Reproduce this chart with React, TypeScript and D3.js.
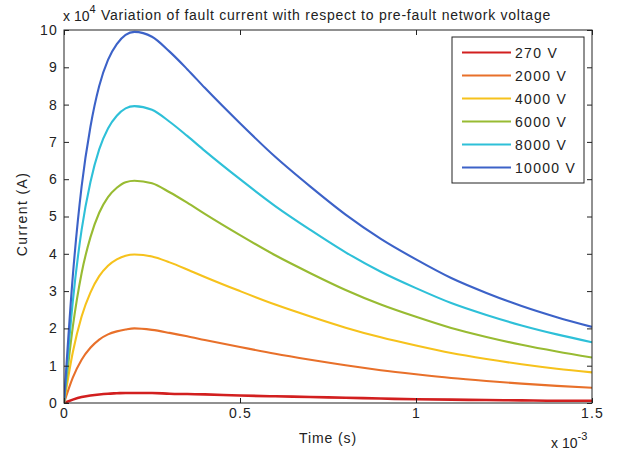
import React, { useRef, useEffect } from 'react';
import * as d3 from 'd3';

// time in ms (axis label carries the x 10^-3)
const timeMs = [0, 0.025, 0.05, 0.075, 0.1, 0.125, 0.15, 0.175, 0.2, 0.25, 0.3, 0.35, 0.4, 0.5, 0.6, 0.7, 0.8, 0.9, 1.0, 1.1, 1.2, 1.3, 1.4, 1.5];

// fault current in units of 10^4 A
const i270 = [0, 0.09, 0.16, 0.2, 0.23, 0.25, 0.26, 0.27, 0.27, 0.27, 0.25, 0.24, 0.23, 0.2, 0.18, 0.16, 0.14, 0.12, 0.1, 0.09, 0.08, 0.07, 0.06, 0.06];
const i2000 = [0, 0.68, 1.16, 1.48, 1.7, 1.84, 1.92, 1.97, 2.0, 1.96, 1.88, 1.79, 1.69, 1.5, 1.32, 1.16, 1.01, 0.88, 0.77, 0.67, 0.59, 0.52, 0.46, 0.41];
const i4000 = [0, 1.36, 2.32, 2.96, 3.4, 3.68, 3.85, 3.95, 3.98, 3.93, 3.77, 3.58, 3.38, 3.0, 2.64, 2.32, 2.02, 1.76, 1.54, 1.34, 1.18, 1.04, 0.92, 0.82];
const i6000 = [0, 2.04, 3.48, 4.44, 5.1, 5.52, 5.77, 5.92, 5.96, 5.89, 5.65, 5.37, 5.07, 4.5, 3.96, 3.48, 3.03, 2.64, 2.31, 2.01, 1.77, 1.56, 1.38, 1.22];
const i8000 = [0, 2.72, 4.64, 5.92, 6.8, 7.36, 7.7, 7.9, 7.96, 7.86, 7.54, 7.16, 6.76, 6.0, 5.28, 4.64, 4.04, 3.52, 3.08, 2.68, 2.36, 2.08, 1.84, 1.63];
const i10000 = [0, 3.4, 5.8, 7.4, 8.5, 9.2, 9.62, 9.87, 9.95, 9.82, 9.42, 8.95, 8.45, 7.5, 6.6, 5.8, 5.05, 4.4, 3.85, 3.35, 2.95, 2.6, 2.3, 2.04];

const seriesNames = ['270 V', '2000 V', '4000 V', '6000 V', '8000 V', '10000 V'];
const seriesValues = [i270, i2000, i4000, i6000, i8000, i10000];
const seriesColors = ['#d21f1f', '#e8702a', '#f6c21c', '#98bb32', '#2ec0d8', '#3c62c8'];

const xTicks = [0, 0.5, 1, 1.5];
const xTickLabels = ['0', '0.5', '1', '1.5'];
const yTicks = [0, 1, 2, 3, 4, 5, 6, 7, 8, 9, 10];

const App = () => {
  const svgRef = useRef(null);

  useEffect(() => {
    const width = 620;
    const height = 457;
    const margin = { top: 30, right: 28, bottom: 54, left: 64 };
    const font = 'Liberation Sans, Arial, sans-serif';

    d3.select(svgRef.current).selectAll('*').remove();

    const root = d3.select(svgRef.current)
      .attr('width', width)
      .attr('height', height)
      .style('font-family', font);

    root.append('rect').attr('width', width).attr('height', height).attr('fill', '#fff');

    const innerWidth = width - margin.left - margin.right;
    const innerHeight = height - margin.top - margin.bottom;

    const svg = root.append('g')
      .attr('transform', `translate(${margin.left}, ${margin.top})`);

    const xScale = d3.scaleLinear().domain([0, 1.5]).range([0, innerWidth]);
    const yScale = d3.scaleLinear().domain([0, 10]).range([innerHeight, 0]);

    svg.append('clipPath').attr('id', 'plot-clip')
      .append('rect').attr('width', innerWidth).attr('height', innerHeight);

    const line = d3.line()
      .x(d => xScale(d[0]))
      .y(d => yScale(d[1]))
      .curve(d3.curveMonotoneX);

    const lines = svg.append('g').attr('clip-path', 'url(#plot-clip)');
    seriesValues.forEach((vals, k) => {
      lines.append('path')
        .datum(timeMs.map((t, i) => [t, vals[i]]))
        .attr('d', line)
        .attr('fill', 'none')
        .attr('stroke', seriesColors[k])
        .attr('stroke-width', k === 0 ? 2.6 : 2.1);
    });

    // axes: MATLAB style, ticks pointing inward on all four sides
    const styleAxis = g => {
      g.select('.domain').remove();
      g.selectAll('line').attr('stroke', '#222');
      g.selectAll('text')
        .attr('fill', '#222')
        .style('font-size', '14px')
        .style('letter-spacing', '1.2px')
        .style('font-family', font);
    };

    svg.append('g')
      .call(d3.axisLeft(yScale).tickValues(yTicks).tickSizeInner(-5).tickSizeOuter(0).tickPadding(6))
      .call(styleAxis);

    svg.append('g')
      .attr('transform', `translate(${innerWidth}, 0)`)
      .call(d3.axisRight(yScale).tickValues(yTicks).tickSizeInner(-5).tickSizeOuter(0).tickFormat(() => ''))
      .call(styleAxis);

    svg.append('g')
      .attr('transform', `translate(0, ${innerHeight})`)
      .call(d3.axisBottom(xScale).tickValues(xTicks).tickSizeInner(-5).tickSizeOuter(0).tickPadding(5)
        .tickFormat((d, i) => xTickLabels[i]))
      .call(styleAxis);

    svg.append('g')
      .call(d3.axisTop(xScale).tickValues(xTicks).tickSizeInner(-5).tickSizeOuter(0).tickFormat(() => ''))
      .call(styleAxis);

    svg.append('rect')
      .attr('width', innerWidth)
      .attr('height', innerHeight)
      .attr('fill', 'none')
      .attr('stroke', '#222')
      .attr('stroke-width', 1);

    // legend
    const legend = svg.append('g').attr('transform', `translate(${452 - margin.left}, ${37 - margin.top})`);
    legend.append('rect')
      .attr('width', 132)
      .attr('height', 146)
      .attr('fill', '#fff')
      .attr('stroke', '#222')
      .attr('stroke-width', 1);
    seriesNames.forEach((name, k) => {
      const yy = 15.5 + k * 23;
      legend.append('line')
        .attr('x1', 10).attr('x2', 59)
        .attr('y1', yy).attr('y2', yy)
        .attr('stroke', seriesColors[k])
        .attr('stroke-width', 2.2);
      legend.append('text')
        .attr('x', 63)
        .attr('y', yy + 5)
        .attr('fill', '#222')
        .style('font-size', '14px')
        .style('letter-spacing', '1.3px')
        .text(name);
    });

    // labels
    root.append('text')
      .attr('x', 328).attr('y', 443)
      .attr('text-anchor', 'middle')
      .attr('fill', '#222')
      .style('font-size', '14px')
      .style('letter-spacing', '0.9px')
      .text('Time (s)');

    root.append('text')
      .attr('transform', 'translate(27, 214) rotate(-90)')
      .attr('text-anchor', 'middle')
      .attr('fill', '#222')
      .style('font-size', '14px')
      .style('letter-spacing', '1.4px')
      .text('Current (A)');

    root.append('text')
      .attr('x', 326).attr('y', 20)
      .attr('text-anchor', 'middle')
      .attr('fill', '#222')
      .style('font-size', '14px')
      .style('letter-spacing', '0.75px')
      .text('Variation of fault current with respect to pre-fault network voltage');

    const topExp = root.append('text')
      .attr('x', 63).attr('y', 21)
      .attr('fill', '#222')
      .style('font-size', '14px');
    topExp.append('tspan').text('x 10');
    topExp.append('tspan').attr('dy', -8).style('font-size', '11px').text('4');

    const botExp = root.append('text')
      .attr('x', 551).attr('y', 448)
      .attr('fill', '#222')
      .style('font-size', '14px');
    botExp.append('tspan').text('x 10');
    botExp.append('tspan').attr('dy', -8).style('font-size', '11px').text('-3');
  }, []);

  return (
    <div>
      <svg ref={svgRef} style={{ position: 'absolute', left: 0, top: 0 }}></svg>
    </div>
  );
};

export default App;
